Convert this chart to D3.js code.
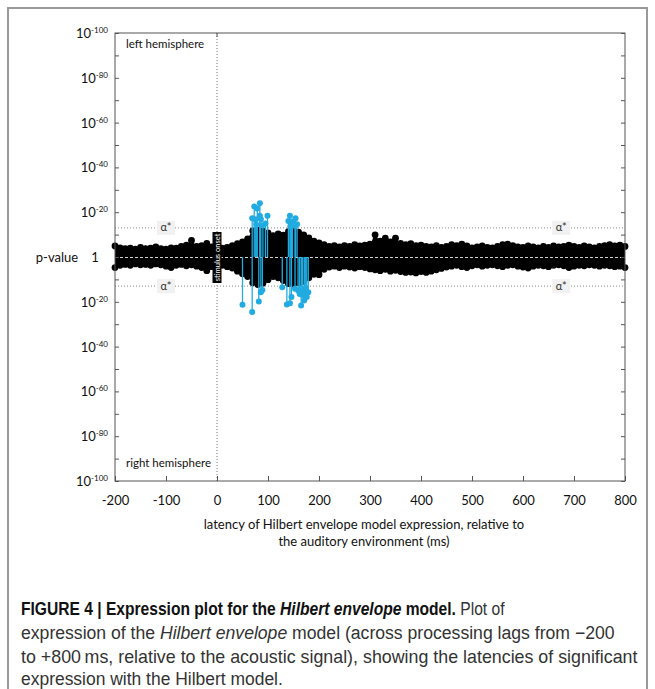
<!DOCTYPE html>
<html>
<head>
  <meta charset="utf-8">
  <title>Hilbert envelope expression plot</title>
  <script src="https://d3js.org/d3.v7.min.js"></script>
  <style>
    body { margin: 0; background: #fff; }
    svg { display: block; }
  </style>
</head>
<body>
  <svg width="655" height="689"></svg>

  <script>
    // latencies (ms) of the expression grid
    const latencies = d3.range(-200, 801, 10);

    // strongest -log10(p) per latency, left hemisphere (drawn above)
    const leftPeak = [
      5.8, 5.0, 4.6, 4.8, 4.4, 5.2, 4.6, 4.8, 5.4, 4.6,
      4.4, 5.0, 4.8, 5.6, 6.2, 8.3, 5.6, 6.0, 7.0, 5.4,
      5.6, 4.8, 5.2, 6.0, 6.8, 7.6, 9.0, 12.6, 13.0, 12.4,
      11.6, 10.4, 11.2, 10.6, 12.2, 12.8, 12.0, 10.8, 9.4, 8.0,
      7.2, 6.4, 5.6, 6.0, 5.4, 6.0, 5.6, 6.4, 5.8, 6.2,
      6.6, 10.8, 8.0, 9.3, 7.6, 9.3, 7.0, 6.4, 6.8, 6.0,
      6.2, 5.6, 5.4, 6.0, 5.2, 5.6, 6.4, 6.0, 6.6, 5.8,
      5.0, 5.4, 5.8, 5.2, 5.0, 5.6, 6.4, 6.6, 6.0, 5.4,
      5.2, 5.8, 5.4, 5.0, 5.6, 5.2, 5.8, 5.4, 5.6, 6.2,
      5.6, 5.2, 5.8, 5.4, 5.0, 5.6, 6.0, 6.4, 5.8, 6.2,
      5.6
    ];

    // strongest -log10(p) per latency, right hemisphere (drawn below)
    const rightPeak = [
      5.6, 4.6, 4.2, 4.6, 4.0, 4.4, 4.2, 4.6, 4.0, 4.4,
      5.0, 5.6, 4.6, 4.2, 4.8, 4.4, 5.0, 5.6, 7.0, 5.2,
      5.0, 4.6, 5.2, 5.8, 7.2, 8.4, 9.6, 12.4, 13.2, 12.6,
      11.0, 9.6, 10.2, 11.4, 12.8, 13.0, 12.4, 11.8, 10.2, 8.6,
      8.8, 6.4, 5.4, 5.0, 5.6, 5.0, 5.4, 5.8, 5.2, 5.6,
      6.2, 6.6, 7.0, 6.4, 7.2, 6.8, 7.4, 7.8, 7.6, 8.0,
      7.4, 7.8, 7.2, 6.6, 6.0, 5.4, 5.0, 4.6, 5.2, 5.6,
      4.8, 4.4, 5.0, 4.6, 4.4, 4.8, 5.2, 4.6, 4.4, 5.0,
      5.4, 5.8, 5.0, 4.6, 4.8, 5.2, 4.6, 4.4, 4.8, 5.6,
      5.0, 4.6, 4.8, 4.4, 4.6, 5.0, 4.6, 4.8, 5.2, 5.0,
      5.6
    ];

    // significant points [latency ms, -log10(p)]
    const leftSig = [
      [84, 24], [73, 22.5], [79, 21.6], [69, 17.3], [75, 16.9], [84, 18.4],
      [86, 16.9], [99, 18.4], [95, 15], [77, 14.5], [90, 14.2],
      [143, 18.4], [154, 17.3], [140, 16.1], [146, 14.7], [153, 13.9],
      [148, 15.8], [157, 14.6], [144, 13.6]
    ];
    const rightSig = [
      [50, 21.3], [69, 24.6], [82, 19.9], [86, 15.7], [89, 14.7],
      [137, 21.2], [143, 20.6], [146, 17.9], [128, 13.5], [159, 15],
      [165, 21.6], [171, 19.4], [172, 16.4], [176, 17.9], [166, 14.2],
      [153, 14.2], [179, 15.7], [168, 17.0], [162, 16.5], [174, 14.0]
    ];

    const alphaStar = 13;
    const xTicks = d3.range(-200, 801, 100);
    const yLabels = [-100, -80, -60, -40, -20, 0, 20, 40, 60, 80, 100];

    const svg = d3.select("svg");
    const cyan = "#22abe0";

    const x = d3.scaleLinear().domain([-200, 800]).range([115, 625]);
    const y = d3.scaleLinear().domain([-100, 100]).range([481, 33]);

    // marco de la figura
    svg.append("path")
      .attr("d", "M8,700V8H647V700")
      .attr("fill", "none")
      .attr("stroke", "#999")
      .attr("stroke-width", 2);

    // linea de inicio del estimulo
    svg.append("line")
      .attr("x1", x(0)).attr("x2", x(0))
      .attr("y1", y(100)).attr("y2", y(-100))
      .attr("stroke", "#777")
      .attr("stroke-dasharray", "1,2");

    // umbrales alpha*
    [alphaStar, -alphaStar].forEach(a => {
      svg.append("line")
        .attr("x1", x(-200)).attr("x2", x(800))
        .attr("y1", y(a)).attr("y2", y(a))
        .attr("stroke", "#888")
        .attr("stroke-dasharray", "1,2");
      [-100, 675].forEach(t => {
        svg.append("rect")
          .attr("x", x(t) - 9).attr("y", y(a) - 7)
          .attr("width", 18).attr("height", 14)
          .attr("fill", "#f1f1f1");
        svg.append("text")
          .attr("x", x(t)).attr("y", y(a) + 3.5)
          .attr("text-anchor", "middle")
          .style("font", "11px Lato")
          .attr("fill", "#333")
          .text("α*");
      });
    });

    // nube de puntos (negro)
    const blob = svg.append("g");
    blob.append("path")
      .datum(latencies)
      .attr("fill", "#000")
      .attr("d", d3.area()
        .x(d => x(d))
        .y0((d, i) => y(-rightPeak[i]) - 2)
        .y1((d, i) => y(leftPeak[i]) + 2)
        .curve(d3.curveMonotoneX));
    blob.selectAll(".ldot")
      .data(latencies)
      .enter().append("circle")
      .attr("cx", d => x(d))
      .attr("cy", (d, i) => y(leftPeak[i]) + 2)
      .attr("r", 3.4);
    blob.selectAll(".rdot")
      .data(latencies)
      .enter().append("circle")
      .attr("cx", d => x(d))
      .attr("cy", (d, i) => y(-rightPeak[i]) - 2)
      .attr("r", 3.4);

    // linea central
    svg.append("line")
      .attr("x1", x(-200)).attr("x2", x(800))
      .attr("y1", y(0) + 0.5).attr("y2", y(0) + 0.5)
      .attr("stroke", "#cfcfcf")
      .attr("stroke-dasharray", "3,2");

    // puntos significativos (cian)
    const sig = leftSig.map(d => [d[0], d[1]]).concat(rightSig.map(d => [d[0], -d[1]]));
    svg.selectAll(".stem")
      .data(sig)
      .enter().append("line")
      .attr("x1", d => x(d[0])).attr("x2", d => x(d[0]))
      .attr("y1", y(0)).attr("y2", d => y(d[1]))
      .attr("stroke", cyan)
      .attr("stroke-width", 1.3);
    svg.selectAll(".sdot")
      .data(sig)
      .enter().append("circle")
      .attr("cx", d => x(d[0]))
      .attr("cy", d => y(d[1]))
      .attr("r", 3)
      .attr("fill", cyan);

    // etiqueta stimulus onset
    svg.append("rect")
      .attr("x", x(0) - 4.5).attr("y", 232)
      .attr("width", 9).attr("height", 51)
      .attr("fill", "#000");
    svg.append("text")
      .attr("transform", `translate(${x(0) + 2.6},257.5) rotate(-90)`)
      .attr("text-anchor", "middle")
      .attr("fill", "#fff")
      .style("font", "7.5px Lato")
      .text("stimulus onset");

    // ejes
    svg.append("rect")
      .attr("x", x(-200)).attr("y", y(100))
      .attr("width", x(800) - x(-200)).attr("height", y(-100) - y(100))
      .attr("fill", "none")
      .attr("stroke", "#555");

    const yTicks = d3.range(-100, 101, 10);
    svg.append("g")
      .attr("transform", `translate(${x(-200)},0)`)
      .call(d3.axisLeft(y).tickValues(yTicks).tickSize(-4).tickFormat(""))
      .call(g => g.select(".domain").remove())
      .call(g => g.selectAll("line").attr("stroke", "#555"));
    svg.append("g")
      .attr("transform", `translate(${x(800)},0)`)
      .call(d3.axisRight(y).tickValues(yTicks).tickSize(-4).tickFormat(""))
      .call(g => g.select(".domain").remove())
      .call(g => g.selectAll("line").attr("stroke", "#555"));

    svg.append("g")
      .attr("transform", `translate(0,${y(-100)})`)
      .call(d3.axisBottom(x).tickValues(xTicks).tickSize(-5).tickPadding(15)
        .tickFormat(d => String(d)))
      .call(g => g.select(".domain").remove())
      .call(g => g.selectAll("line").attr("stroke", "#555"))
      .call(g => g.selectAll("text")
        .style("font", "13px Lato")
        .attr("fill", "#111"));
    svg.append("line")
      .attr("x1", x(0)).attr("x2", x(0))
      .attr("y1", y(100)).attr("y2", y(100) + 4)
      .attr("stroke", "#555");

    // etiquetas del eje y con exponentes
    yLabels.forEach(v => {
      if (v === 0) {
        svg.append("text")
          .attr("x", 95).attr("y", y(0) + 5)
          .attr("text-anchor", "middle")
          .style("font", "13px Lato")
          .attr("fill", "#111")
          .text("1");
        return;
      }
      const t = svg.append("text")
        .attr("x", 108).attr("y", y(v) + 5)
        .attr("text-anchor", "end")
        .style("font", "13px Lato")
        .attr("fill", "#111");
      t.append("tspan").text("10");
      t.append("tspan")
        .attr("dy", -5)
        .style("font-size", "8px")
        .text("-" + Math.abs(v));
    });

    svg.append("text")
      .attr("x", 57).attr("y", y(0) + 5)
      .attr("text-anchor", "middle")
      .style("font", "13px Lato")
      .attr("fill", "#111")
      .text("p-value");

    svg.append("text")
      .attr("x", 126).attr("y", 48)
      .style("font", "11.5px Lato")
      .attr("fill", "#111")
      .text("left hemisphere");
    svg.append("text")
      .attr("x", 126).attr("y", 467)
      .style("font", "11.5px Lato")
      .attr("fill", "#111")
      .text("right hemisphere");

    svg.append("text")
      .attr("x", 364).attr("y", 529)
      .attr("text-anchor", "middle")
      .style("font", "13px Lato")
      .attr("fill", "#111")
      .text("latency of Hilbert envelope model expression, relative to");
    svg.append("text")
      .attr("x", 364).attr("y", 546)
      .attr("text-anchor", "middle")
      .style("font", "13px Lato")
      .attr("fill", "#111")
      .text("the auditory environment (ms)");

    // pie de figura
    const capFont = "'Liberation Sans Narrow', 'Liberation Sans', Arial, sans-serif";
    const capLines = [
      { y: 615, w: 484, parts: [
        ["FIGURE 4 | Expression plot for the ", "bold", "normal"],
        ["Hilbert envelope", "bold", "italic"],
        [" model.", "bold", "normal"],
        [" Plot of", "normal", "normal"]] },
      { y: 639, w: 594, parts: [
        ["expression of the ", "normal", "normal"],
        ["Hilbert envelope", "normal", "italic"],
        [" model (across processing lags from \u2212200", "normal", "normal"]] },
      { y: 663, w: 617, parts: [
        ["to +800\u2009ms, relative to the acoustic signal), showing the latencies of significant", "normal", "normal"]] },
      { y: 685, w: 262, parts: [
        ["expression with the Hilbert model.", "normal", "normal"]] }
    ];
    capLines.forEach(l => {
      const g = svg.append("g");
      const t = g.append("text")
        .attr("x", 0).attr("y", 0)
        .style("font-family", capFont)
        .style("font-size", "18px")
        .attr("fill", "#333");
      l.parts.forEach(p => {
        t.append("tspan")
          .style("font-weight", p[1])
          .style("font-style", p[2])
          .attr("fill", p[1] === "bold" ? "#111" : "#333")
          .text(p[0]);
      });
      const sx = l.w / t.node().getComputedTextLength();
      g.attr("transform", `translate(21,${l.y}) scale(${sx},1)`);
    });
  </script>
</body>
</html>
